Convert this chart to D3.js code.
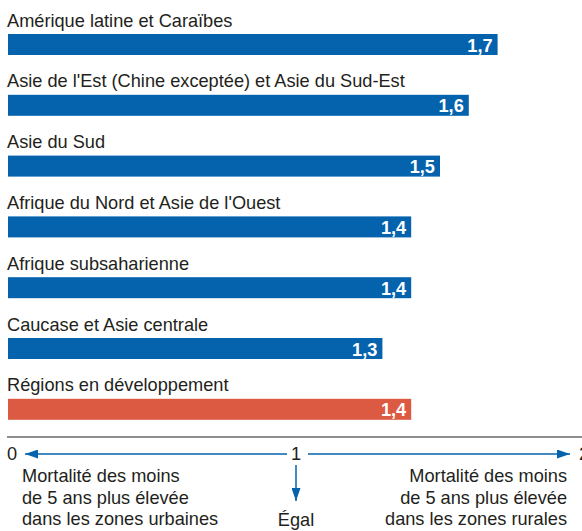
<!DOCTYPE html>
<html lang="fr">
<head>
<meta charset="UTF-8">
<title>Mortalité des moins de 5 ans</title>
<script src="https://d3js.org/d3.v7.min.js"></script>
<style>
  body { margin: 0; background: #fff; }
  svg text { font-family: "Liberation Sans", Arial, sans-serif; }
</style>
</head>
<body>
<div id="chart"></div>
<script>
const categories = [
  "Amérique latine et Caraïbes",
  "Asie de l'Est (Chine exceptée) et Asie du Sud-Est",
  "Asie du Sud",
  "Afrique du Nord et Asie de l'Ouest",
  "Afrique subsaharienne",
  "Caucase et Asie centrale",
  "Régions en développement"
];
const values = [1.7, 1.6, 1.5, 1.4, 1.4, 1.3, 1.4];
const labels = ["1,7", "1,6", "1,5", "1,4", "1,4", "1,3", "1,4"];
const axisTicks = [0, 1, 2];
const leftNote = ["Mortalité des moins", "de 5 ans plus élevée", "dans les zones urbaines"];
const rightNote = ["Mortalité des moins", "de 5 ans plus élevée", "dans les zones rurales"];
const middleNote = "Égal";

const width = 582, height = 531;
const blue = "#0563ae", red = "#dc5942", ink = "#231f20";
const fs = "18.2px";

const svg = d3.select("#chart").append("svg")
  .attr("width", width).attr("height", height);

const x = d3.scaleLinear().domain([0, 2]).range([8, 584]);
const y = d3.scaleBand().domain(categories).range([8, 8 + 7 * 60.8]).paddingInner(0);

const rows = svg.selectAll("g.row")
  .data(categories.map((c, i) => ({ name: c, value: values[i], label: labels[i], i })))
  .join("g").attr("class", "row")
  .attr("transform", d => `translate(0,${y(d.name)})`);

rows.append("text")
  .attr("x", 7).attr("y", 18.5)
  .attr("fill", ink).style("font-size", fs)
  .text(d => d.name);

rows.append("rect")
  .attr("x", x(0)).attr("y", 26)
  .attr("width", d => x(d.value) - x(0)).attr("height", 21)
  .attr("fill", d => d.i === categories.length - 1 ? red : blue);

rows.append("text")
  .attr("x", d => x(d.value) - 5).attr("y", 43.5)
  .attr("text-anchor", "end").attr("fill", "#fff")
  .style("font-size", fs).style("font-weight", "bold")
  .text(d => d.label);

// separator line
svg.append("line")
  .attr("x1", 7).attr("x2", width).attr("y1", 437).attr("y2", 437)
  .attr("stroke", ink).attr("stroke-width", 1.2);

// arrow head
svg.append("defs").append("marker").attr("id", "head")
  .attr("viewBox", "0 0 13 9").attr("refX", 13).attr("refY", 4.5)
  .attr("markerWidth", 13).attr("markerHeight", 9).attr("orient", "auto")
  .attr("markerUnits", "userSpaceOnUse")
  .append("path").attr("d", "M0,0L13,4.5L0,9Z").attr("fill", blue);

const axisY = 454;
svg.selectAll("text.tick")
  .data(axisTicks)
  .join("text").attr("class", "tick")
  .attr("x", d => d === 0 ? x(d) - 1 : x(d))
  .attr("y", axisY + 6)
  .attr("text-anchor", d => d === 0 ? "start" : d === 2 ? "end" : "middle")
  .attr("dx", d => d === 2 ? 5 : 0)
  .attr("fill", ink).style("font-size", fs)
  .text(d => d);

// left arrow
svg.append("line")
  .attr("x1", x(1) - 9).attr("x2", x(0) + 17)
  .attr("y1", axisY).attr("y2", axisY)
  .attr("stroke", blue).attr("stroke-width", 1.5)
  .attr("marker-end", "url(#head)");
// right arrow
svg.append("line")
  .attr("x1", x(1) + 12).attr("x2", x(2) - 14)
  .attr("y1", axisY).attr("y2", axisY)
  .attr("stroke", blue).attr("stroke-width", 1.5)
  .attr("marker-end", "url(#head)");
// down arrow
svg.append("line")
  .attr("x1", x(1)).attr("x2", x(1))
  .attr("y1", axisY + 11).attr("y2", 501)
  .attr("stroke", blue).attr("stroke-width", 1.5)
  .attr("marker-end", "url(#head)");

svg.append("text")
  .attr("x", 22).attr("y", 482)
  .attr("fill", ink).style("font-size", fs)
  .selectAll("tspan").data(leftNote).join("tspan")
  .attr("x", 22).attr("dy", (d, i) => i ? 21.5 : 0)
  .text(d => d);

svg.append("text")
  .attr("x", 567).attr("y", 482).attr("text-anchor", "end")
  .attr("fill", ink).style("font-size", fs)
  .selectAll("tspan").data(rightNote).join("tspan")
  .attr("x", 567).attr("dy", (d, i) => i ? 21.5 : 0)
  .text(d => d);

svg.append("text")
  .attr("x", x(1)).attr("y", 526).attr("text-anchor", "middle")
  .attr("fill", ink).style("font-size", fs)
  .text(middleNote);
</script>
</body>
</html>
